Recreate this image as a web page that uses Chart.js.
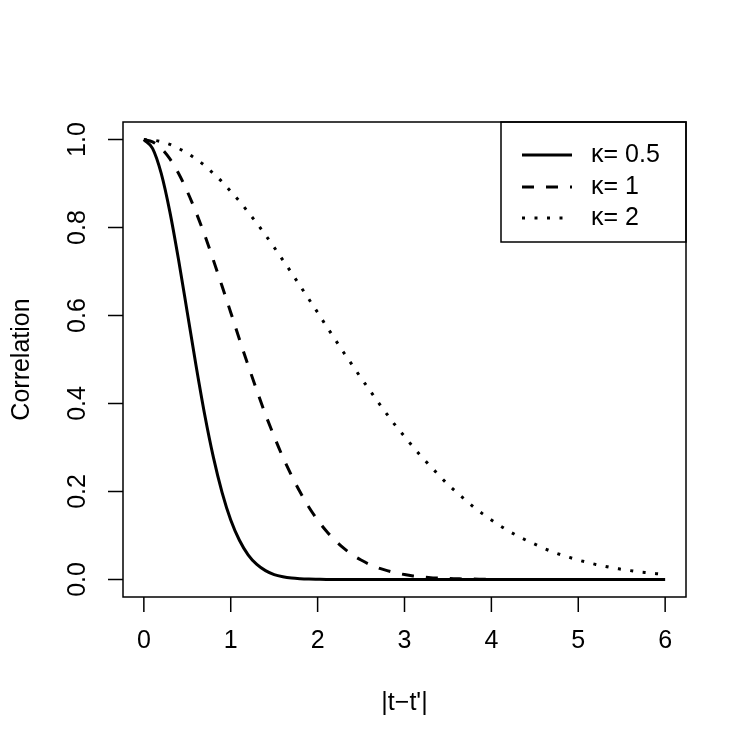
<!DOCTYPE html>
<html>
<head>
<meta charset="utf-8">
<script src="https://cdn.jsdelivr.net/npm/chart.js@4/dist/chart.umd.min.js"></script>
<style>
html,body{margin:0;padding:0;background:#fff;}
#wrap{width:750px;height:750px;}
</style>
</head>
<body>
<div id="wrap"><canvas id="c" width="750" height="750"></canvas></div>
<script>
// ---- data ----
const xValues = [0,0.1,0.2,0.3,0.4,0.5,0.6,0.7,0.8,0.9,1.0,1.1,1.2,1.3,1.4,1.5,1.6,1.7,1.8,1.9,2.0,
  2.1,2.2,2.3,2.4,2.5,2.6,2.7,2.8,2.9,3.0,3.1,3.2,3.3,3.4,3.5,3.6,3.7,3.8,3.9,4.0,
  4.1,4.2,4.3,4.4,4.5,4.6,4.7,4.8,4.9,5.0,5.1,5.2,5.3,5.4,5.5,5.6,5.7,5.8,5.9,6.0];
const kappa05 = [1,0.980,0.923,0.835,0.726,0.607,0.487,0.375,0.278,0.198,0.135,0.089,0.056,0.034,0.020,0.011,0.006,0.003,0.0015,0.0007,0.0003,
  0,0,0,0,0,0,0,0,0,0,0,0,0,0,0,0,0,0,0,0,
  0,0,0,0,0,0,0,0,0,0,0,0,0,0,0,0,0,0,0,0];
const kappa1 = [1,0.995,0.980,0.956,0.923,0.882,0.835,0.783,0.726,0.667,0.607,0.546,0.487,0.430,0.375,0.325,0.278,0.236,0.198,0.164,0.135,
  0.110,0.089,0.071,0.056,0.044,0.034,0.026,0.020,0.015,0.011,0.008,0.006,0.004,0.003,0.002,0.0015,0.001,0.0007,0.0005,0.0003,
  0,0,0,0,0,0,0,0,0,0,0,0,0,0,0,0,0,0,0,0];
const kappa2 = [1,0.999,0.995,0.989,0.980,0.969,0.956,0.941,0.923,0.904,0.882,0.860,0.835,0.810,0.783,0.755,0.726,0.697,0.667,0.637,0.607,
  0.576,0.546,0.516,0.487,0.458,0.430,0.402,0.375,0.349,0.325,0.301,0.278,0.257,0.236,0.216,0.198,0.181,0.164,0.149,0.135,
  0.122,0.110,0.099,0.089,0.080,0.071,0.063,0.056,0.050,0.044,0.039,0.034,0.030,0.026,0.023,0.020,0.017,0.015,0.013,0.011];
const seriesLabels = ['κ= 0.5','κ= 1','κ= 2'];
const xTicks = [0,1,2,3,4,5,6];
const yTicks = [0,0.2,0.4,0.6,0.8,1.0];
const yTickLabels = ['0.0','0.2','0.4','0.6','0.8','1.0'];
const xTitle = '|t\u2212t\'|';
const yTitle = 'Correlation';

const FONT = '25px "Liberation Sans", Arial, sans-serif';
const LW = 3;
const dashes = [[], [12,12], [3,9.5]];
const series = [kappa05, kappa1, kappa2];

const toPts = arr => xValues.map((x,i)=>({x:x, y:arr[i]}));

const rPlot = {
  id:'rPlot',
  afterDraw(chart){
    const ctx = chart.ctx, a = chart.chartArea;
    const xs = chart.scales.x, ys = chart.scales.y;
    ctx.save();
    ctx.strokeStyle = '#000'; ctx.fillStyle = '#000';
    ctx.lineWidth = 1.5; ctx.setLineDash([]);
    // box
    ctx.strokeRect(a.left, a.top, a.right-a.left, a.bottom-a.top);
    const tl = 15;
    // ticks
    ctx.beginPath();
    xTicks.forEach(v=>{ const px = xs.getPixelForValue(v); ctx.moveTo(px, a.bottom); ctx.lineTo(px, a.bottom+tl); });
    yTicks.forEach(v=>{ const py = ys.getPixelForValue(v); ctx.moveTo(a.left, py); ctx.lineTo(a.left-tl, py); });
    ctx.stroke();
    ctx.font = FONT;
    ctx.textAlign = 'center'; ctx.textBaseline = 'middle';
    xTicks.forEach(v=>{ ctx.fillText(String(v), xs.getPixelForValue(v), a.bottom+44); });
    yTicks.forEach((v,i)=>{
      ctx.save(); ctx.translate(a.left-45, ys.getPixelForValue(v)); ctx.rotate(-Math.PI/2);
      ctx.fillText(yTickLabels[i], 0, 0); ctx.restore();
    });
    // titles
    ctx.fillText(xTitle, (a.left+a.right)/2, a.bottom+106);
    ctx.save(); ctx.translate(a.left-101, (a.top+a.bottom)/2); ctx.rotate(-Math.PI/2);
    ctx.fillText(yTitle, 0, 0); ctx.restore();
    // legend
    const lx0 = 501, ly0 = a.top;
    const lw = a.right - lx0, lh = 120;
    ctx.lineWidth = 1.5;
    ctx.strokeRect(lx0, ly0, lw, lh);
    const rows = [155, 187, 218];
    ctx.textAlign = 'left';
    chart.data.datasets.forEach((ds,i)=>{
      ctx.lineWidth = LW; ctx.lineCap = 'butt';
      ctx.setLineDash(ds.borderDash || []);
      ctx.beginPath(); ctx.moveTo(522, rows[i]); ctx.lineTo(572, rows[i]); ctx.stroke();
      ctx.setLineDash([]);
      ctx.fillText(ds.label, 591, rows[i]);
    });
    ctx.restore();
  }
};

new Chart(document.getElementById('c'), {
  type:'line',
  data:{
    datasets: series.map((s,i)=>({
      label: seriesLabels[i],
      data: toPts(s),
      borderColor:'#000',
      borderWidth: LW,
      borderDash: dashes[i],
      borderCapStyle:'butt',
      pointRadius:0,
      cubicInterpolationMode:'monotone',
      fill:false
    }))
  },
  options:{
    responsive:false,
    animation:false,
    devicePixelRatio:1,
    layout:{padding:{left:123,right:64,top:122,bottom:153}},
    plugins:{legend:{display:false}, tooltip:{enabled:false}},
    scales:{
      x:{type:'linear', min:-0.24, max:6.24, display:false},
      y:{type:'linear', min:-0.04, max:1.04, display:false}
    }
  },
  plugins:[rPlot]
});
</script>
</body>
</html>
